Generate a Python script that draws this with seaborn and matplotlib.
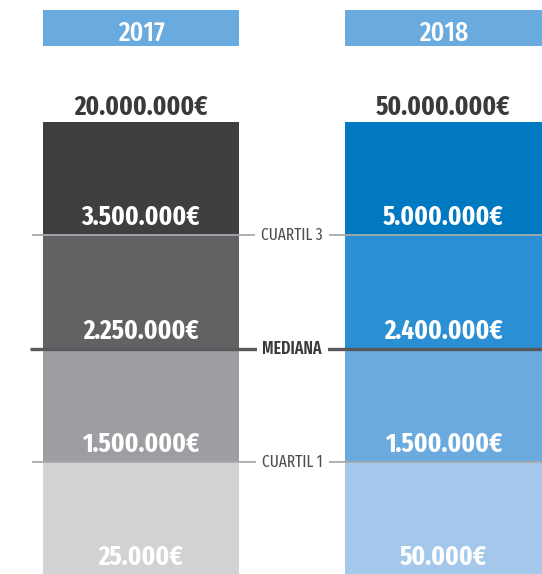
import matplotlib
matplotlib.use("Agg")
import matplotlib.pyplot as plt
import numpy as np
import pandas as pd
import seaborn as sns
from matplotlib.patches import Rectangle

# ---- data ----
years = ["2017", "2018"]
maximo = ["20.000.000€", "50.000.000€"]
cuartil3 = ["3.500.000€", "5.000.000€"]
mediana = ["2.250.000€", "2.400.000€"]
cuartil1 = ["1.500.000€", "1.500.000€"]
minimo = ["25.000€", "50.000€"]
line_labels = ["CUARTIL 1", "MEDIANA", "CUARTIL 3"]

# block colours, bottom -> top
colors_2017 = ["#d1d2d4", "#9d9ea1", "#616264", "#3f3f41"]
colors_2018 = ["#a3c8ec", "#6aaade", "#2b8fd4", "#0079c1"]
header_color = "#6aabdf"

sns.set_style("white")
FAM = ["Fira Sans Extra Condensed", "Barlow Condensed", "Roboto Condensed",
       "Liberation Sans Narrow", "DejaVu Sans"]
plt.rcParams["font.family"] = FAM

fig = plt.figure(figsize=(5.42, 5.74), dpi=100)
ax = fig.add_axes([0, 0, 1, 1])

bar_w = 0.651
# stacked blocks (equal height), drawn from tallest to shortest
for k in range(4, 0, -1):
    df = pd.DataFrame({"year": years, "h": [k, k]})
    sns.barplot(data=df, x="year", y="h", hue="year",
                palette=[colors_2017[k - 1], colors_2018[k - 1]],
                width=bar_w, saturation=1, legend=False, ax=ax,
                linewidth=0, edgecolor="none")

xl, xr = -0.466, 1.3256
ax.set_xlim(xl, xr)
ax.set_ylim(0.0115, 5.078)
ax.axis("off")

# headers
for i, y in enumerate(years):
    ax.add_patch(Rectangle((i - bar_w / 2, 4.672), bar_w, 0.318,
                           facecolor=header_color, edgecolor="none", zorder=3))
    ax.text(i, 4.72, y, ha="center", va="baseline", color="white",
            fontsize=20, fontweight="medium", zorder=4)

# value labels
levels = [minimo, cuartil1, mediana, cuartil3]
for i in range(len(years)):
    for lvl, vals in enumerate(levels):
        ax.text(i, lvl + 0.09, vals[i], ha="center", va="baseline",
                color="white", fontsize=19.5, fontweight="bold", zorder=5)
    ax.text(i, 4.065, maximo[i], ha="center", va="baseline",
            color="#3a3a3c", fontsize=19.5, fontweight="bold", zorder=5)

# quartile lines
xmid = 0.5
x_start = (32 - 141) / 302.5
for yv, lab in zip([1, 2, 3], line_labels):
    if lab == "MEDIANA":
        ax.hlines(yv, (30 - 141) / 302.5, xr, color="#58595b", lw=2.4, zorder=6)
        ax.text(xmid, yv, lab, ha="center", va="center", fontsize=12.5,
                fontweight="semibold", color="#3a3a3c", zorder=7,
                bbox=dict(facecolor="white", edgecolor="none", pad=4))
    else:
        ax.hlines(yv, x_start, xr, color="#a7a9ac", lw=1.3, zorder=6)
        ax.text(xmid, yv, lab, ha="center", va="center", fontsize=12,
                color="#4d4d4f", zorder=7,
                bbox=dict(facecolor="white", edgecolor="none", pad=4.5))

fig.savefig("out.png", dpi=100)
